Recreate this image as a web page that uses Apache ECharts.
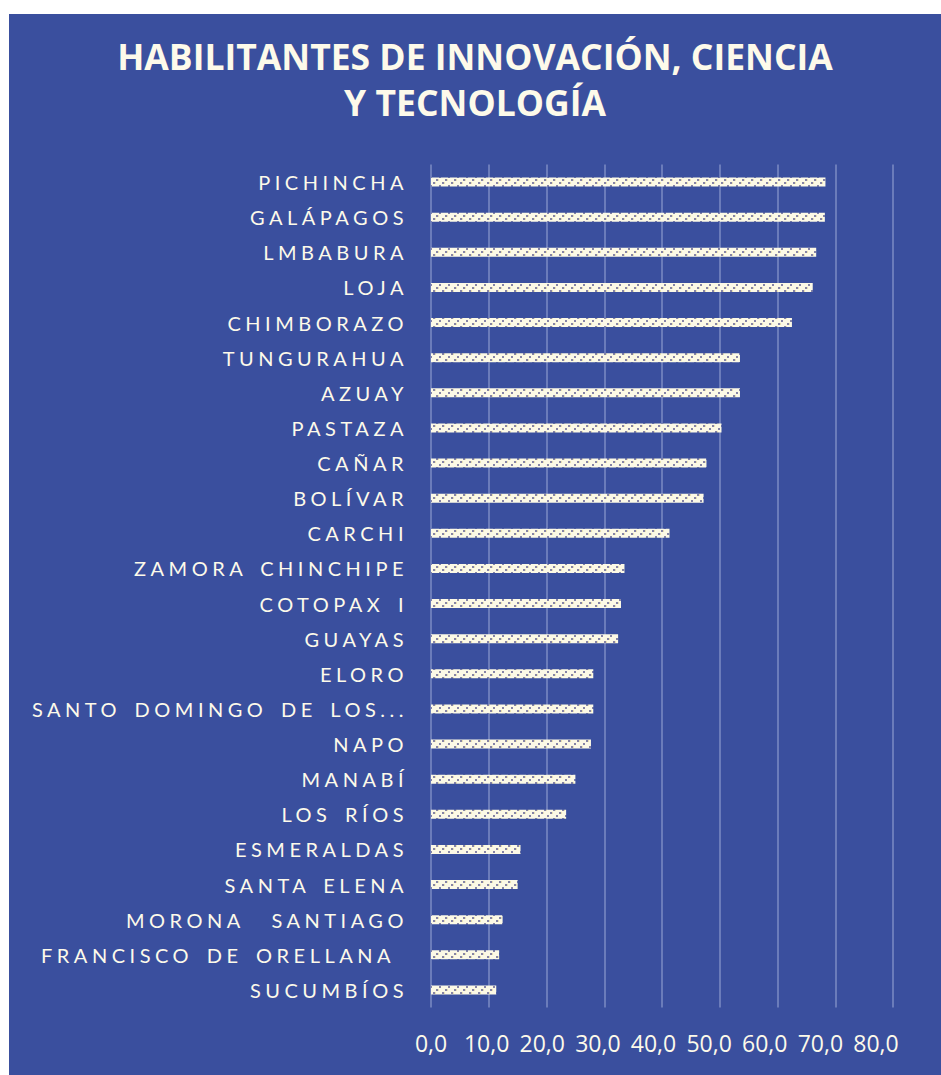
<!DOCTYPE html>
<html>
<head>
<meta charset="utf-8">
<script src="https://cdn.jsdelivr.net/npm/echarts@6/dist/echarts.min.js"></script>
<style>
    html, body { margin: 0; padding: 0; background: #ffffff; }
    #grafico { position: absolute; left: 9px; top: 14px; width: 932px; height: 1061px; }
    /* etiquetas de provincia con espaciado entre letras */
    #grafico text[style*="Lato"] { letter-spacing: 4.5px; word-spacing: 4px; }
</style>
</head>
<body>
<div id="grafico"></div>
<script>
    var provincias = [
        'PICHINCHA', 'GALÁPAGOS', 'LMBABURA', 'LOJA', 'CHIMBORAZO', 'TUNGURAHUA',
        'AZUAY', 'PASTAZA', 'CAÑAR', 'BOLÍVAR', 'CARCHI', 'ZAMORA CHINCHIPE',
        'COTOPAX I', 'GUAYAS', 'ELORO', 'SANTO DOMINGO DE LOS...', 'NAPO', 'MANABÍ',
        'LOS RÍOS', 'ESMERALDAS', 'SANTA ELENA', 'MORONA  SANTIAGO',
        'FRANCISCO DE ORELLANA\u00a0', 'SUCUMBÍOS'
    ];
    var valores = [
        68.3, 68.2, 66.7, 66.1, 62.5, 53.5,
        53.5, 50.3, 47.7, 47.2, 41.3, 33.5,
        32.9, 32.4, 28.1, 28.1, 27.7, 25.0,
        23.4, 15.5, 15.0, 12.4, 11.8, 11.3
    ];
    var marcasX = [0, 10, 20, 30, 40, 50, 60, 70, 80];

    var colorTexto = '#fdfaea';

    // trama de las barras
    var trama = document.createElement('canvas');
    trama.width = 9;
    trama.height = 9;
    var ctx = trama.getContext('2d');
    ctx.fillStyle = '#fcf9e6';
    ctx.fillRect(0, 0, 9, 9);
    ctx.fillStyle = '#8684a6';
    ctx.fillRect(1, 6, 2, 2);
    ctx.fillRect(4, 3, 2, 2);
    ctx.fillRect(7, 0, 2, 2);
    ctx.fillStyle = '#e9e2b4';
    ctx.fillRect(3, 6, 1, 2);
    ctx.fillRect(6, 3, 1, 2);

    var dom = document.getElementById('grafico');
    var chart = echarts.init(dom, null, { renderer: 'svg' });

    chart.setOption({
        animation: false,
        backgroundColor: '#3a4f9e',
        title: {
            left: 'center',
            top: 14,
            text: 'HABILITANTES DE INNOVACIÓN, CIENCIA\nY TECNOLOGÍA',
            textStyle: {
                color: colorTexto,
                fontFamily: 'Open Sans',
                fontWeight: 'bold',
                fontSize: 35.5,
                lineHeight: 46
            }
        },
        grid: {
            left: 422,
            right: 48,
            top: 150.5,
            bottom: 67.5,
            containLabel: false
        },
        xAxis: [
            {
                type: 'value',
                min: 0,
                max: 80,
                interval: 10,
                axisLine: { show: false },
                axisTick: { show: false },
                axisLabel: { show: false },
                splitLine: {
                    show: true,
                    lineStyle: { color: 'rgba(190,200,235,0.5)', width: 1.5 }
                }
            },
            {
                // solo para las etiquetas, algo más juntas como en el original
                type: 'value',
                position: 'bottom',
                min: 0,
                max: 83.06,
                axisLine: { show: false },
                axisTick: { show: false },
                splitLine: { show: false },
                axisLabel: {
                    customValues: marcasX,
                    margin: 24,
                    color: colorTexto,
                    fontFamily: 'Open Sans',
                    fontSize: 23,
                    formatter: function (v) {
                        return v.toFixed(1).replace('.', ',');
                    }
                }
            }
        ],
        yAxis: {
            type: 'category',
            inverse: true,
            data: provincias,
            axisLine: { show: false },
            axisTick: { show: false },
            splitLine: { show: false },
            axisLabel: {
                margin: 23,
                color: colorTexto,
                fontFamily: 'Lato',
                fontSize: 20
            }
        },
        series: [
            {
                type: 'bar',
                xAxisIndex: 0,
                barWidth: 9,
                itemStyle: {
                    color: { image: trama, repeat: 'repeat' }
                },
                data: valores
            }
        ]
    });

    window.addEventListener('resize', chart.resize);
</script>
</body>
</html>
